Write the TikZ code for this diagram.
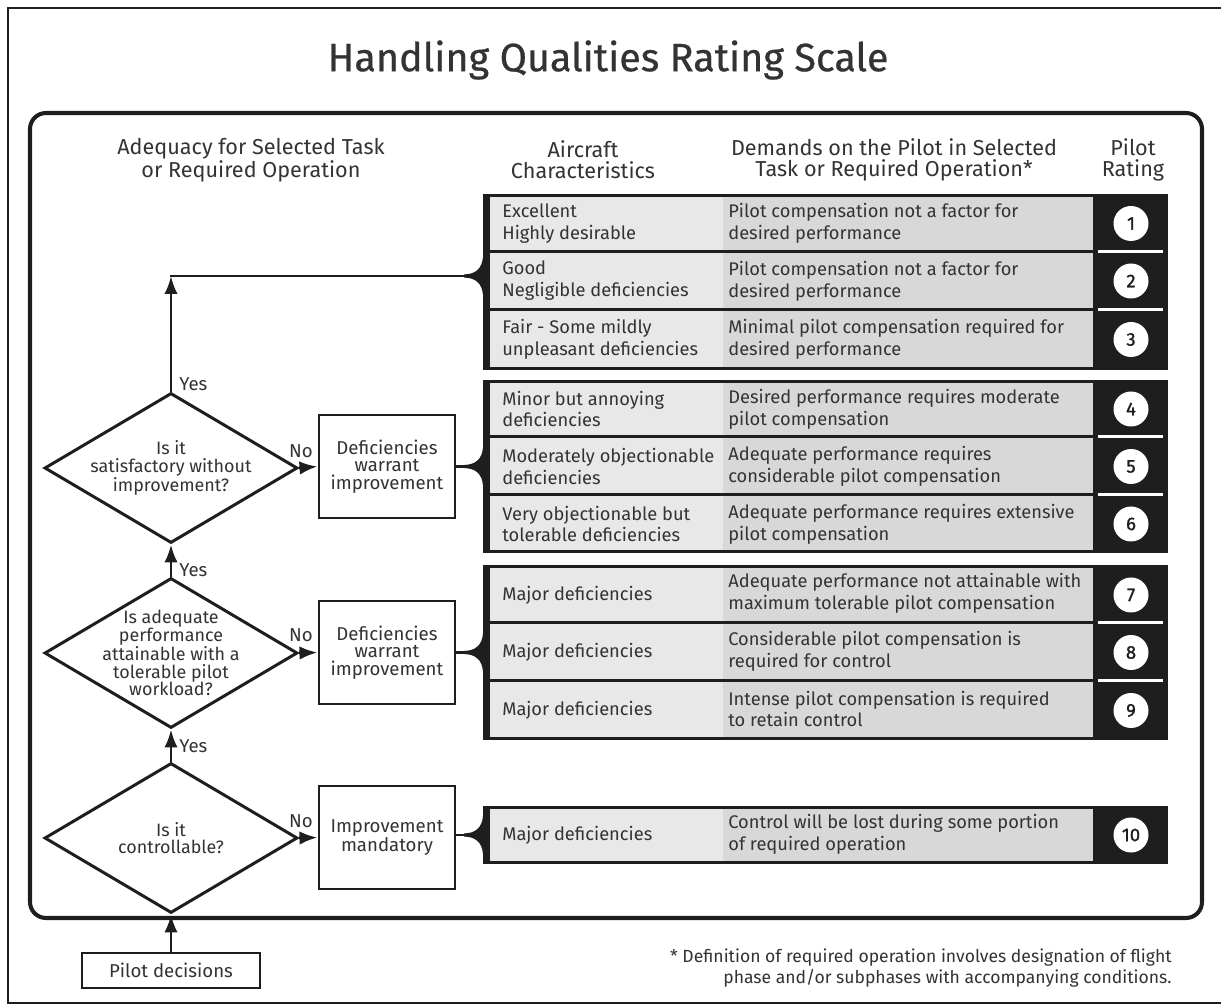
\documentclass[tikz,border=0pt]{standalone}
\usepackage{fontspec}
\setmainfont{Fira Sans}
\newfontfamily\titlefont[FakeBold=0.6]{Fira Sans}
\newfontfamily\numfont[FakeBold=1.2]{Fira Sans}
\usetikzlibrary{shapes.geometric,arrows.meta}
\newdimen\px \px=0.02cm
\definecolor{ink}{HTML}{1E1E1E}
\definecolor{txt}{HTML}{333333}
\definecolor{cellA}{HTML}{E8E8E8}
\definecolor{cellB}{HTML}{D8D8D8}
\newcommand\hqgroup[2]{%
  \fill[ink] (483,#1) rectangle (1168,#2);
  \fill[cellA] (490,{#1+3}) rectangle (723,{#2-3});
  \fill[cellB] (723,{#1+3}) rectangle (1093,{#2-3});
}
\newcommand\hqdiv[1]{%
  \draw[ink, line width=3\px] (490,#1) -- (1093,#1);
  \draw[white, line width=3\px] (1098,#1) -- (1163,#1);
}
\newcommand\hqbrace[2]{% #1 name, #2 y
  \begin{scope}[shift={(483,#2)}]
    \fill[ink] (-19,-1.6) .. controls (-8,-1.6) and (-1,-7) .. (0,-19) -- (0,19) .. controls (-1,7) and (-8,1.6) .. (-19,1.6) -- cycle;
  \end{scope}
  \coordinate (#1) at (465,#2);
}
\begin{document}
\begin{tikzpicture}[x=0.02cm,y=-0.02cm,
  every node/.style={text=txt},
  hdr/.style={align=center, font=\fontsize{12.3}{11.8}\selectfont},
  cellL/.style={anchor=west, align=left, inner sep=0pt, font=\fontsize{10.4}{12.5}\selectfont},
  cellR/.style={anchor=west, align=left, inner sep=0pt, font=\fontsize{10.4}{12.5}\selectfont},
  rate/.style={circle, fill=white, minimum size=35\px, inner sep=0pt, text=ink, font=\numfont\fontsize{10.5}{12}\selectfont},
  dia/.style={diamond, draw=ink, line width=1.7pt, minimum width=253\px, minimum height=150\px, inner sep=0pt},
  dtext/.style={align=center, inner sep=0pt, text=txt, font=\fontsize{10.2}{10}\selectfont},
  dbox/.style={rectangle, draw=ink, line width=1.7pt, minimum width=136\px, minimum height=103\px, inner sep=0pt, align=center, font=\fontsize{10.6}{10}\selectfont},
  lbl/.style={inner sep=0pt, font=\fontsize{10.6}{12}\selectfont},
  conn/.style={draw=ink, line width=1.7pt},
  arr/.style={draw=ink, line width=1.7pt, -{Latex[length=0.36cm,width=0.27cm]}},
]
\useasboundingbox (0,0) rectangle (1221,1006);
\fill[white] (0,0) rectangle (1221,1006);
% frames
\draw[ink, line width=1.2pt] (1221,8) -- (8,8) -- (8,1003) -- (1221,1003);
\draw[ink, line width=2.3pt, rounded corners=0.32cm] (30,113) rectangle (1202,918);
% title
\node[font=\titlefont\fontsize{22.5}{26}\selectfont] (title) at (608,60) {Handling Qualities Rating Scale};
% headers
\node[hdr] (h1) at (251,160) {Adequacy for Selected Task\\or Required Operation};
\node[hdr] (h2) at (583,160) {Aircraft\\Characteristics};
\node[hdr] (h3) at (894,160) {Demands on the Pilot in Selected\\Task or Required Operation*};
\node[hdr] (h4) at (1133,160) {Pilot\\Rating};
% groups
\hqgroup{194}{370}
\hqdiv{252}\hqdiv{310}
\hqgroup{380}{553}
\hqdiv{437}\hqdiv{495}
\hqgroup{565}{740}
\hqdiv{623}\hqdiv{681}
\hqgroup{806}{864}
\hqbrace{br1}{276}
\hqbrace{br2}{466.5}
\hqbrace{br3}{652.5}
\hqbrace{br4}{835}
% cells group 1
\node[cellL] (a1) at (502,223.5) {Excellent\\Highly desirable};
\node[cellL] (a2) at (502,281) {Good\\Negligible deficiencies};
\node[cellL] (a3) at (502,339.5) {Fair - Some mildly\\unpleasant deficiencies};
\node[cellR] (p1) at (728,223.5) {Pilot compensation not a factor for\\desired performance};
\node[cellR] (p2) at (728,281) {Pilot compensation not a factor for\\desired performance};
\node[cellR] (p3) at (728,339.5) {Minimal pilot compensation required for\\desired performance};
% group 2
\node[cellL] (a4) at (502,409) {Minor but annoying\\deficiencies};
\node[cellL] (a5) at (502,466.5) {Moderately objectionable\\deficiencies};
\node[cellL] (a6) at (502,524) {Very objectionable but\\tolerable deficiencies};
\node[cellR] (p4) at (728,409) {Desired performance requires moderate\\pilot compensation};
\node[cellR] (p5) at (728,466.5) {Adequate performance requires\\considerable pilot compensation};
\node[cellR] (p6) at (728,524) {Adequate performance requires extensive\\pilot compensation};
% group 3
\node[cellL] (a7) at (502,595) {Major deficiencies};
\node[cellL] (a8) at (502,652.5) {Major deficiencies};
\node[cellL] (a9) at (502,710.5) {Major deficiencies};
\node[cellR] (p7) at (728,593.5) {Adequate performance not attainable with\\maximum tolerable pilot compensation};
\node[cellR] (p8) at (728,651) {Considerable pilot compensation is\\required for control};
\node[cellR] (p9) at (728,709) {Intense pilot compensation is required\\to retain control};
% group 4
\node[cellL] (a10) at (502,835) {Major deficiencies};
\node[cellR] (p10) at (728,834) {Control will be lost during some portion\\of required operation};
% ratings
\node[rate] (r1) at (1131,223.5) {1};
\node[rate] (r2) at (1131,281) {2};
\node[rate] (r3) at (1131,339.5) {3};
\node[rate] (r4) at (1131,409) {4};
\node[rate] (r5) at (1131,466.5) {5};
\node[rate] (r6) at (1131,524) {6};
\node[rate] (r7) at (1131,595) {7};
\node[rate] (r8) at (1131,652.5) {8};
\node[rate] (r9) at (1131,710.5) {9};
\node[rate] (r10) at (1131,835) {10};
% flowchart
\node[dia, label={[dtext, name=d1t]center:Is it\\satisfactory without\\improvement?}] (d1) at (171,468) {};
\node[dia, label={[dtext, name=d2t]center:Is adequate\\performance\\attainable with a\\tolerable pilot\\workload?}] (d2) at (171,653) {};
\node[dia, label={[dtext, name=d3t]center:Is it\\controllable?}] (d3) at (171,838) {};
\node[dbox] (b1) at (387,466.5) {Deficiencies\\warrant\\improvement};
\node[dbox] (b2) at (387,652.5) {Deficiencies\\warrant\\improvement};
\node[dbox] (b3) at (387,837.5) {Improvement\\mandatory};
\node[rectangle, draw=ink, line width=1.7pt, minimum width=178\px, minimum height=35\px, inner sep=0pt, font=\fontsize{10.6}{12}\selectfont] (pd) at (171,970.5) {Pilot decisions};
\coordinate (c1) at (171,276);
% connectors
\draw[arr] (pd.north) -- (d3.south);
\draw[arr] (d3.north) -- (d2.south);
\draw[arr] (d2.north) -- (d1.south);
\draw[arr] (d1.north) -- (c1);
\draw[conn] ([xshift=-0.85pt]c1) -- (br1);
\draw[arr] (d1.east) -- (b1.west);
\draw[arr] (d2.east) -- (b2.west);
\draw[arr] (d3.east) -- (b3.west);
\draw[conn] (b1.east |- br2) -- (br2);
\draw[conn] (b2.east |- br3) -- (br3);
\draw[conn] (b3.east |- br4) -- (br4);
% labels
\node[lbl, anchor=west] (y1) at (179,384) {Yes};
\node[lbl, anchor=west] (y2) at (179,570) {Yes};
\node[lbl, anchor=west] (y3) at (179,746) {Yes};
\node[lbl] (n1) at (301,451) {No};
\node[lbl] (n2) at (301,635) {No};
\node[lbl] (n3) at (301,821) {No};
% footnote
\node[anchor=east, align=right, inner sep=0pt, font=\fontsize{10}{12.5}\selectfont] (fn) at (1172,968) {* Definition of required operation involves designation of flight\\phase and/or subphases with accompanying conditions.};
\end{tikzpicture}
\end{document}
